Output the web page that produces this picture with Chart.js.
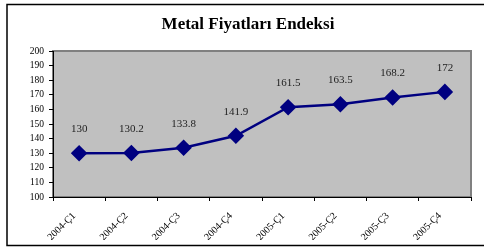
<!DOCTYPE html>
<html>
<head>
<meta charset="utf-8">
<script src="https://cdn.jsdelivr.net/npm/chart.js@4"></script>
<style>
  body { margin: 0; background: #fff; }
  #wrap { width: 484px; height: 248px; }
</style>
</head>
<body>
<div id="wrap"><canvas id="grafica" width="484" height="248"></canvas></div>
<script>
// Datos del grafico
var titulo = "Metal Fiyatları Endeksi";
var periodos = ["2004-Ç1", "2004-Ç2", "2004-Ç3", "2004-Ç4", "2005-Ç1", "2005-Ç2", "2005-Ç3", "2005-Ç4"];
var endeks = [130, 130.2, 133.8, 141.9, 161.5, 163.5, 168.2, 172];
var etiquetas = ["130", "130.2", "133.8", "141.9", "161.5", "163.5", "168.2", "172"];

// Fondo gris, marco exterior y titulo
var fondo = {
  id: "fondo",
  beforeDraw: function (chart) {
    var ctx = chart.ctx, a = chart.chartArea;
    ctx.save();
    ctx.fillStyle = "#fff";
    ctx.fillRect(0, 0, chart.width, chart.height);
    ctx.strokeStyle = "#000";
    ctx.lineWidth = 1.5;
    ctx.strokeRect(7, 4.5, 500, 241);
    ctx.fillStyle = "#c0c0c0";
    ctx.fillRect(a.left, a.top, a.right - a.left, a.bottom - a.top);
    ctx.strokeStyle = "#808080";
    ctx.lineWidth = 2;
    ctx.strokeRect(a.left, a.top, a.right - a.left, a.bottom - a.top);
    ctx.fillStyle = "#000";
    ctx.font = "bold 17px 'Liberation Serif'";
    ctx.textAlign = "center";
    ctx.textBaseline = "middle";
    ctx.fillText(titulo, 248, 25);
    ctx.restore();
  },
  afterDatasetsDraw: function (chart) {
    var ctx = chart.ctx;
    var puntos = chart.getDatasetMeta(0).data;
    ctx.save();
    ctx.fillStyle = "#222";
    ctx.font = "11px 'Liberation Serif'";
    ctx.textAlign = "center";
    ctx.textBaseline = "middle";
    for (let i = 0; i < puntos.length; i++) {
      ctx.fillText(etiquetas[i], puntos[i].x, puntos[i].y - 24);
    }
    ctx.restore();
  }
};

var ctx = document.getElementById("grafica").getContext("2d");
var miGrafica = new Chart(ctx, {
  type: "line",
  data: {
    labels: periodos,
    datasets: [{
      data: endeks,
      borderColor: "#000080",
      backgroundColor: "#000080",
      borderWidth: 2.5,
      pointStyle: "rectRot",
      pointRadius: 6.5,
      pointHoverRadius: 6.5,
      tension: 0
    }]
  },
  options: {
    responsive: false,
    animation: false,
    layout: { padding: { top: 51, left: 7, right: 13, bottom: 8 } },
    plugins: {
      legend: { display: false },
      title: { display: false },
      tooltip: { enabled: false }
    },
    scales: {
      x: {
        offset: true,
        grid: { offset: true, drawOnChartArea: false, drawTicks: true, tickLength: 4, color: "#000" },
        border: { color: "#000", width: 1 },
        ticks: {
          color: "#000",
          font: { family: "Liberation Serif", size: 10 },
          minRotation: 45,
          maxRotation: 45,
          padding: 9,
          labelOffset: -5
        },
        afterFit: function (scale) { scale.height = 43; }
      },
      y: {
        min: 100,
        max: 200,
        grid: { drawOnChartArea: false, drawTicks: true, tickLength: 4, color: "#000" },
        border: { color: "#000", width: 1 },
        ticks: {
          stepSize: 10,
          color: "#000",
          font: { family: "Liberation Serif", size: 9.5 },
          padding: 5
        },
        afterFit: function (scale) { scale.width = 46; }
      }
    }
  },
  plugins: [fondo]
});
</script>
</body>
</html>
